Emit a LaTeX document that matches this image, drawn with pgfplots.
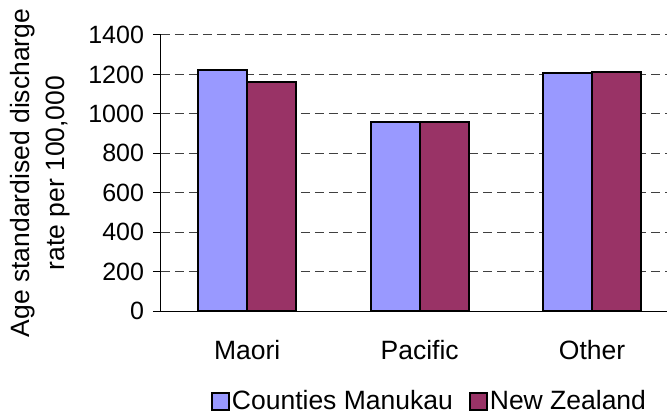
\documentclass[border=0pt]{standalone}
\usepackage{fontspec}
\setmainfont{Liberation Sans}
\usepackage{pgfplots}
\pgfplotsset{compat=1.18}
\definecolor{cm}{HTML}{9999FF}
\definecolor{nz}{HTML}{993366}
\definecolor{gridc}{HTML}{404040}
\begin{document}
\fontsize{26.5bp}{31bp}\selectfont
\begin{tikzpicture}
\begin{axis}[
 at={(0,0)}, anchor=south west,
 scale only axis, width=517.3bp, height=276bp,
 xmin=-0.5, xmax=2.5, ymin=0, ymax=1400,
 ybar=0pt, bar width=49bp,
 axis x line*=bottom, axis y line*=left,
 axis line style={-, line width=1bp, black},
 xtick={0,1,2}, xticklabels={Maori,Pacific,Other},
 xticklabel style={yshift=-12bp},
 x tick style={draw=none},
 extra x ticks={0.5,1.5}, extra x tick labels={},
 extra x tick style={tick style={draw=black, line width=1bp}, major tick length=8bp, grid=none},
 ytick={0,200,...,1400},
 y tick style={black, line width=1bp},
 tick align=outside, major tick length=8bp,
 ymajorgrids, grid style={gridc, line width=1bp, dash pattern=on 9bp off 5bp},
 /pgf/number format/assume math mode=true,
 /pgf/number format/1000 sep={},
 yticklabel style={font=\fontsize{25bp}{30bp}\selectfont},
 ylabel={Age standardised discharge\\rate per 100,000},
 ylabel style={align=center, font=\fontsize{26.5bp}{35bp}\selectfont},
 legend columns=2,
 legend style={at={(0.519,-0.328)}, anchor=center, draw=none, fill=none,
   /tikz/every even column/.append style={column sep=14bp}},
 legend image code/.code={\draw[#1, line width=2bp] (-4bp,-8.5bp) rectangle (13bp,8.5bp);},
]
\addplot[fill=cm, draw=black, line width=2bp] coordinates {(0,1221) (1,961) (2,1206)};
\addplot[fill=nz, draw=black, line width=2bp] coordinates {(0,1162) (1,960) (2,1213)};
\legend{Counties Manukau, New Zealand}
\end{axis}
\pgfresetboundingbox
\path (-161bp,-103bp) rectangle (506bp,311bp);
\end{tikzpicture}
\end{document}
